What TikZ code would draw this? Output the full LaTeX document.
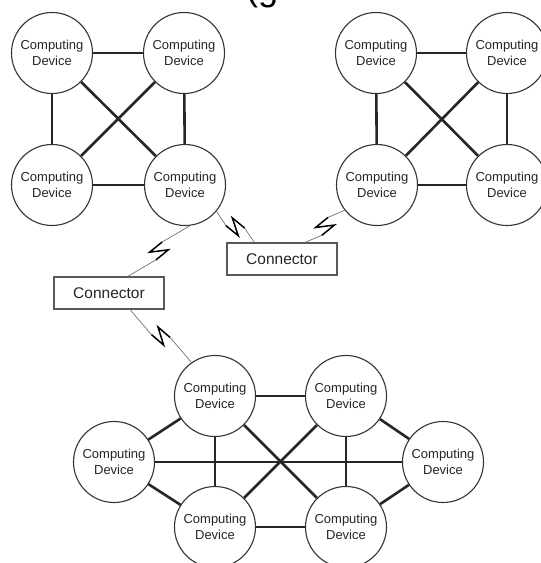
\documentclass[tikz,border=0pt]{standalone}
\usepackage{fontspec}
\setmainfont{Liberation Sans}
\usetikzlibrary{calc}

\tikzset{
  device/.style={circle, draw=black!80, line width=1.1pt, minimum size=81pt,
    inner sep=0pt, align=center, text=black!85,
    font=\fontsize{13}{16.5}\selectfont},
  link/.style={draw=black!85, line width=2.6pt},
  connbox/.style={draw=black!65, line width=1.5pt, minimum width=110pt,
    minimum height=32pt, inner sep=0pt, text=black!85,
    font=\fontsize{15.5}{18}\selectfont},
  wire/.style={draw=black!55, line width=0.7pt},
  boltseg/.style={draw=black, line width=1.5pt, line join=miter},
}

% A thin wireless link between two named points, broken by a lightning bolt
\newcommand\boltlink[2]{%
  \coordinate (bm) at ($(#1)!0.5!(#2)$);
  \coordinate (bf) at ($(bm)!8pt!(#2)$);
  \coordinate (bb) at ($(bm)!8pt!(#1)$);
  \coordinate (bA) at ($(bb)!5pt!-90:(#2)$);
  \coordinate (bB) at ($(bf)!5pt!-90:(#2)$);
  \coordinate (bC) at ($(bb)!5pt!90:(#2)$);
  \coordinate (bD) at ($(bf)!5pt!90:(#2)$);
  \draw[wire] (#1) -- (bA);
  \draw[wire] (bD) -- (#2);
  \draw[boltseg] (bA) -- (bB) -- (bC) -- (bD);
}

\begin{document}
\begin{tikzpicture}[x=1pt, y=-1pt]
\useasboundingbox (0,0) rectangle (541,563);
\fill[white] (0,0) rectangle (541,563);
\clip (0,0) rectangle (541,563);

% heading, cut off at the top edge
\node[anchor=base west, inner sep=0pt, text=black,
  font=\fontsize{36}{36}\selectfont] (hdr) at (246,0) {(g};

% left cluster
\node[device] (a1) at (52,53)   {Computing\\Device};
\node[device] (a2) at (184,53)  {Computing\\Device};
\node[device] (a3) at (52,185)  {Computing\\Device};
\node[device] (a4) at (185,185) {Computing\\Device};
\draw[link] (a1) -- (a2);
\draw[link] (a3) -- (a4);
\draw[link] (a1) -- (a3);
\draw[link] (a2) -- (a4);
\draw[link] (a1) -- (a4);
\draw[link] (a2) -- (a3);

% right cluster
\node[device] (b1) at (376,53)  {Computing\\Device};
\node[device] (b2) at (507,53)  {Computing\\Device};
\node[device] (b3) at (377,185) {Computing\\Device};
\node[device] (b4) at (507,185) {Computing\\Device};
\draw[link] (b1) -- (b2);
\draw[link] (b3) -- (b4);
\draw[link] (b1) -- (b3);
\draw[link] (b2) -- (b4);
\draw[link] (b1) -- (b4);
\draw[link] (b2) -- (b3);

% bottom cluster
\node[device] (c1) at (215,396) {Computing\\Device};
\node[device] (c2) at (346,396) {Computing\\Device};
\node[device] (c3) at (114,462) {Computing\\Device};
\node[device] (c4) at (443,462) {Computing\\Device};
\node[device] (c5) at (215,527) {Computing\\Device};
\node[device] (c6) at (346,527) {Computing\\Device};
\draw[link] (c1) -- (c2);
\draw[link] (c5) -- (c6);
\draw[link] (c1) -- (c5);
\draw[link] (c2) -- (c6);
\draw[link] (c3) -- (c1);
\draw[link] (c3) -- (c5);
\draw[link] (c4) -- (c2);
\draw[link] (c4) -- (c6);
\draw[link] (c3) -- (c4);
\draw[link] (c1) -- (c6);
\draw[link] (c5) -- (c2);

% connectors
\node[connbox] (k1) at (282,259) {Connector};
\node[connbox] (k2) at (109,293) {Connector};

% wireless links
\coordinate (w1s) at (a4.-83);
\coordinate (w1e) at ($(k2.north west)!0.67!(k2.north east)$);
\boltlink{w1s}{w1e}
\coordinate (w2s) at ($(k2.south west)!0.69!(k2.south east)$);
\coordinate (w2e) at (c1.125);
\boltlink{w2s}{w2e}
\coordinate (w3s) at (a4.-40);
\coordinate (w3e) at ($(k1.north west)!0.25!(k1.north east)$);
\boltlink{w3s}{w3e}
\coordinate (w4s) at (b3.-142);
\coordinate (w4e) at ($(k1.north west)!0.71!(k1.north east)$);
\boltlink{w4s}{w4e}
\end{tikzpicture}
\end{document}
